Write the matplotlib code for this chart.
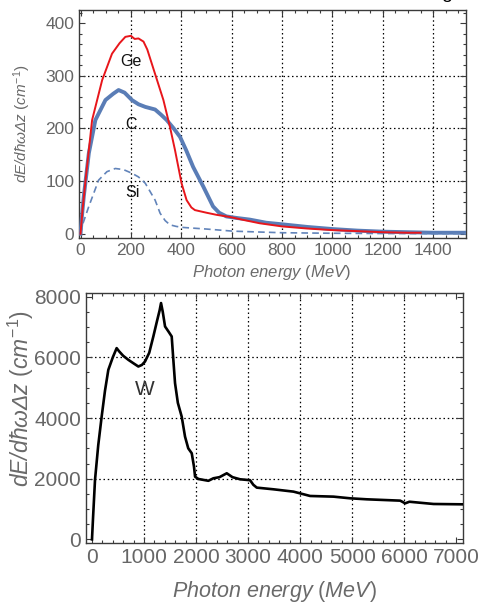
import matplotlib
matplotlib.use("Agg")
import matplotlib.pyplot as plt
from matplotlib.ticker import MultipleLocator

plt.rcParams['font.family'] = ['Liberation Sans', 'DejaVu Sans']
plt.rcParams['mathtext.fontset'] = 'custom'
plt.rcParams['mathtext.rm'] = 'Liberation Sans'
plt.rcParams['mathtext.it'] = 'Liberation Sans:italic'

# ---------------- data ----------------
ge_x = [0, 8, 20, 46, 86, 125, 155, 178, 200, 215, 230, 250, 265, 283, 305, 329, 355, 375,
        401, 421, 440, 454, 500, 540, 592, 650, 711, 800, 900, 1000, 1100, 1200, 1300, 1350]
ge_y = [0, 45, 102, 216, 292, 342, 362, 374, 376, 370, 371, 365, 350, 323, 290, 254, 203, 159,
        96, 64, 50, 45, 40, 36, 32, 26, 20, 14, 10, 7, 5, 3, 2, 2]

c_x = [0, 5, 13, 33, 59, 99, 130, 151, 175, 204, 230, 257, 296, 320, 342, 370, 395, 420,
       447, 487, 526, 550, 579, 620, 671, 737, 800, 900, 1000, 1100, 1200, 1300, 1400, 1530]
c_y = [0, 30, 71, 153, 216, 254, 266, 273, 268, 254, 246, 241, 236, 226, 216, 200, 184, 158,
       127, 90, 52, 40, 33, 30, 27, 21, 18, 13, 9, 6, 4, 3, 2, 2]

si_x = [0, 10, 33, 72, 105, 138, 170, 204, 230, 257, 296, 316, 336, 355, 380, 408, 500,
        605, 700, 800, 1000, 1200, 1530]
si_y = [0, 20, 52, 102, 118, 124, 122, 115, 108, 96, 64, 39, 25, 17, 14, 12, 9,
        5, 3.5, 2, 1, 0.5, 0.3]

w_x = [0, 20, 58, 120, 186, 250, 314, 400, 474, 520, 600, 699, 800, 891, 960, 1019, 1100,
       1179, 1250, 1300, 1327, 1360, 1404, 1470, 1532, 1560, 1596, 1650, 1724, 1788, 1850,
       1917, 1960, 1981, 2045, 2237, 2333, 2450, 2590, 2700, 2846, 3038, 3100, 3167, 3487,
       3872, 4192, 4641, 4962, 5282, 5923, 6019, 6100, 6564, 7109]
w_y = [0, 700, 1957, 3100, 4046, 4900, 5587, 6000, 6303, 6200, 6050, 5917, 5800, 5697, 5750,
       5862, 6150, 6687, 7200, 7550, 7789, 7500, 7017, 6850, 6687, 6000, 5149, 4500, 4046,
       3386, 3000, 2838, 2400, 2066, 1990, 1930, 2013, 2050, 2178, 2050, 1980, 1950, 1800,
       1705, 1650, 1573, 1430, 1408, 1353, 1320, 1276, 1188, 1240, 1166, 1155]

top_xticks = [0, 200, 400, 600, 800, 1000, 1200, 1400]
top_yticks = [0, 100, 200, 300, 400]
bot_xticks = [0, 1000, 2000, 3000, 4000, 5000, 6000, 7000]
bot_yticks = [0, 2000, 4000, 6000, 8000]

# ---------------- figure ----------------
W, H = 479, 610
fig = plt.figure(figsize=(W / 100, H / 100), dpi=100)

def px_axes(l, t, r, b):
    return fig.add_axes([l / W, 1 - b / H, (r - l) / W, (b - t) / H])

spine_col = '#3a3a3a'
tick_col = '#666666'
label_col = '#6a6a6a'
red = '#e8161b'
blue = '#5a7db6'

def style(ax, xminor, yminor, fs):
    for s in ax.spines.values():
        s.set_color(spine_col)
        s.set_linewidth(1.0)
    ax.tick_params(which='both', direction='in', top=True, right=True,
                   color=spine_col, labelcolor=tick_col, labelsize=fs, width=0.8)
    ax.tick_params(which='major', length=4)
    ax.tick_params(which='minor', length=2.2)
    ax.xaxis.set_minor_locator(MultipleLocator(xminor))
    ax.yaxis.set_minor_locator(MultipleLocator(yminor))

# ---- top panel ----
ax1 = px_axes(79, 10, 466, 238)
ax1.plot(c_x, c_y, color=blue, lw=2.8, zorder=3)
ax1.plot(ge_x, ge_y, color=red, lw=1.4, zorder=4)
ax1.plot(si_x, si_y, color='#6284ba', lw=1.2, ls=(0, (4, 2.5)), zorder=3)
ax1.set_xlim(-6, 1530)
ax1.set_ylim(-8, 425)
ax1.set_xticks(top_xticks)
ax1.set_yticks(top_yticks)
style(ax1, 50, 20, 12.5)
for v in top_xticks[1:]:
    ax1.axvline(v, color='black', ls=(0, (1.2, 2.2)), lw=0.9, zorder=1)
for v in top_yticks[1:-1]:
    ax1.axhline(v, color='black', ls=(0, (1.2, 2.2)), lw=0.9, zorder=1)
ax1.text(201, 328, 'Ge', fontsize=11.5, ha='center', va='center', color='#111111')
ax1.text(201, 208, 'C', fontsize=11.5, ha='center', va='center', color='#111111')
ax1.text(205, 78, 'Si', fontsize=11.5, ha='center', va='center', color='#111111')
ax1.set_ylabel('dE/dħωΔz $(cm^{-1})$', fontsize=11, color=label_col, style='italic')
ax1.yaxis.set_label_coords(-0.118, 0.5)
fig.text(272 / W, 1 - 273 / H, 'Photon energy $(MeV)$', fontsize=12, color=label_col,
         style='italic', ha='center', va='center')

# ---- bottom panel ----
ax2 = px_axes(86, 293, 463, 543)
ax2.plot(w_x, w_y, color='black', lw=1.9, zorder=3)
ax2.set_xlim(-115, 7130)
ax2.set_ylim(-120, 8120)
ax2.set_xticks(bot_xticks)
ax2.set_yticks(bot_yticks)
style(ax2, 200, 500, 15)
for v in bot_xticks[1:-1]:
    ax2.axvline(v, color='black', ls=(0, (1.2, 2.2)), lw=0.9, zorder=1)
for v in bot_yticks[1:-1]:
    ax2.axhline(v, color='black', ls=(0, (1.2, 2.2)), lw=0.9, zorder=1)
ax2.text(1006, 4950, 'W', fontsize=15, ha='center', va='center', color='#333333')
fig.text(21 / W, 1 - 399 / H, 'dE/dħωΔz $(cm^{-1})$', fontsize=16.5, color=label_col,
         style='italic', rotation=90, ha='center', va='center')
fig.text(274 / W, 1 - 591 / H, 'Photon energy $(MeV)$', fontsize=15.5, color=label_col,
         style='italic', ha='center', va='center')

fig.text(447 / W, 1 + 2 / H, 'g', fontsize=14, color='black', ha='center', va='baseline')

fig.savefig('out.png', dpi=100)
